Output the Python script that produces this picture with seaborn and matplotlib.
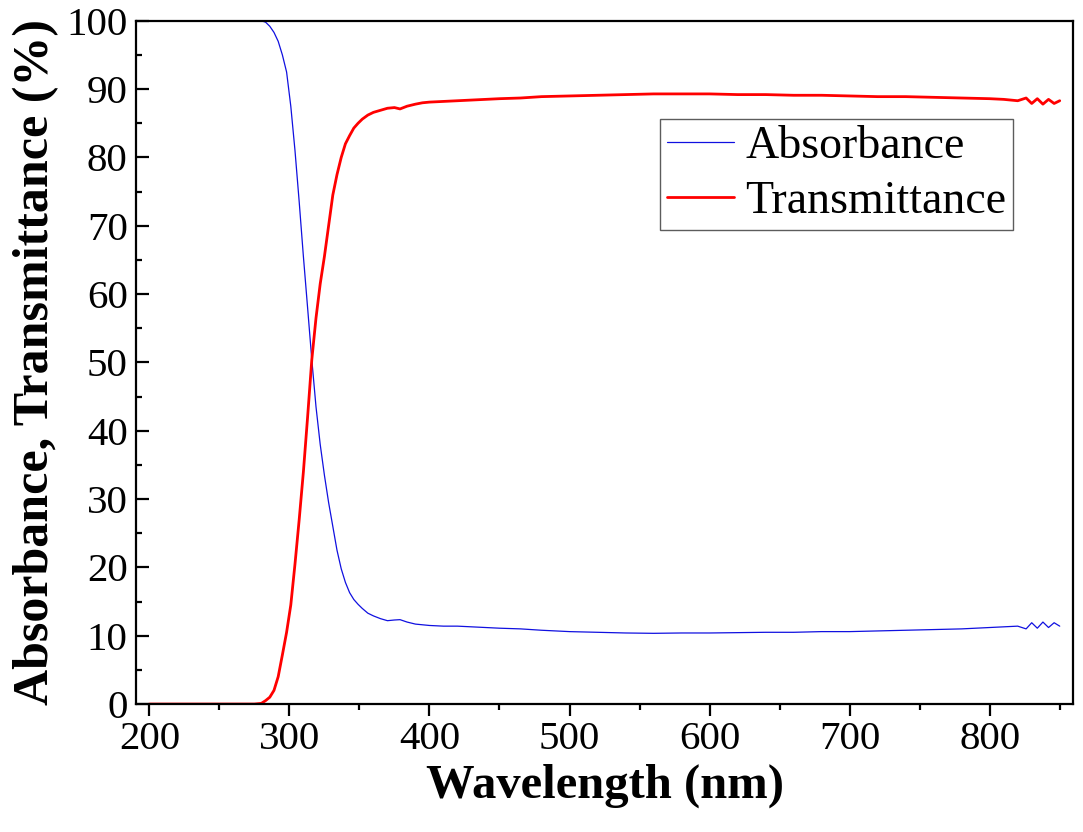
import pandas as pd
import matplotlib
matplotlib.use("Agg")
import matplotlib.pyplot as plt
import seaborn as sns
from matplotlib.ticker import MultipleLocator

# wavelength grid (nm) and both spectra
wavelength = [200, 220, 240, 260, 275, 280, 283, 286, 289, 292, 295, 298, 301, 304,
              307, 310, 313, 316, 319, 322, 325, 328, 331, 334, 337, 340, 343, 346,
              349, 352, 356, 360, 365, 370, 375, 379, 384, 390, 395, 400, 410, 420,
              430, 440, 450, 465, 480, 500, 520, 540, 560, 580, 600, 620, 640, 660,
              680, 700, 720, 740, 760, 780, 800, 810, 820, 826, 830, 834, 838, 842,
              846, 850]

absorbance = [100, 100, 100, 100, 100, 100, 99.8, 99.2, 98.3, 97.0, 95.0, 92.5, 87.5,
              81.0, 73.5, 65.5, 58.0, 50.4, 43.5, 38.0, 33.5, 29.5, 26.0, 22.5, 19.8,
              17.8, 16.3, 15.3, 14.6, 14.0, 13.3, 12.9, 12.5, 12.2, 12.3, 12.35, 12.0,
              11.7, 11.6, 11.5, 11.4, 11.4, 11.3, 11.2, 11.1, 11.0, 10.8, 10.6, 10.5,
              10.4, 10.35, 10.4, 10.4, 10.45, 10.5, 10.5, 10.6, 10.6, 10.7, 10.8, 10.9,
              11.0, 11.2, 11.3, 11.4, 11.0, 11.9, 11.1, 12.0, 11.2, 11.9, 11.4]

transmittance = [0, 0, 0, 0, 0, 0.1, 0.5, 1.0, 2.0, 4.0, 7.2, 10.5, 14.5, 20.5, 27.0,
                 34.0, 42.0, 50.4, 56.5, 61.5, 65.5, 70.0, 74.5, 77.5, 80.0, 82.0, 83.2,
                 84.3, 85.0, 85.6, 86.2, 86.6, 86.9, 87.2, 87.3, 87.1, 87.5, 87.8, 88.0,
                 88.1, 88.2, 88.3, 88.4, 88.5, 88.6, 88.7, 88.9, 89.0, 89.1, 89.2, 89.3,
                 89.3, 89.3, 89.2, 89.2, 89.1, 89.1, 89.0, 88.9, 88.9, 88.8, 88.7, 88.6,
                 88.5, 88.3, 88.7, 87.9, 88.6, 87.8, 88.5, 87.9, 88.3]

df = pd.DataFrame({"wavelength": wavelength,
                   "Absorbance": absorbance,
                   "Transmittance": transmittance})

sns.set_style("ticks")
plt.rcParams['font.family'] = ['Liberation Serif', 'DejaVu Serif']
for key in ['text.color', 'axes.labelcolor', 'xtick.color', 'ytick.color', 'axes.edgecolor']:
    plt.rcParams[key] = 'black'

fig = plt.figure(figsize=(10.83, 8.32), dpi=100)
ax = fig.add_axes([0.1256, 0.1538, 0.8652, 0.8212])

sns.lineplot(data=df, x="wavelength", y="Absorbance", color="#1010e0",
             linewidth=0.9, label="Absorbance", ax=ax)
sns.lineplot(data=df, x="wavelength", y="Transmittance", color="#ff0000",
             linewidth=2.0, label="Transmittance", ax=ax)

ax.set_xlim(190.5, 859.5)
ax.set_ylim(0, 100)
ax.xaxis.set_major_locator(MultipleLocator(100))
ax.xaxis.set_minor_locator(MultipleLocator(50))
ax.yaxis.set_major_locator(MultipleLocator(10))
ax.yaxis.set_minor_locator(MultipleLocator(5))

for s in ax.spines.values():
    s.set_visible(True)
    s.set_linewidth(1.6)
    s.set_color("black")

ax.tick_params(axis='x', which='major', direction='out', length=8.5, width=1.6,
               labelsize=29.5, pad=4)
ax.tick_params(axis='x', which='minor', direction='out', length=4.5, width=1.6)
ax.tick_params(axis='y', which='major', direction='in', length=9, width=1.6,
               labelsize=29.5, pad=6)
ax.tick_params(axis='y', which='minor', direction='in', length=4.5, width=1.6)

ax.set_xlabel("Wavelength (nm)", fontsize=35, fontweight='bold', labelpad=4)
ax.set_ylabel("Absorbance, Transmittance (%)", fontsize=36, fontweight='bold',
              labelpad=5)

leg = ax.legend(loc='upper right', bbox_to_anchor=(0.936, 0.857), borderaxespad=0,
                fontsize=33, frameon=True, fancybox=False, handlelength=1.45,
                handletextpad=0.25, labelspacing=0.28, borderpad=0.15)
leg.get_frame().set_edgecolor("#333333")
leg.get_frame().set_linewidth(1.0)

fig.savefig("out.png", dpi=100)
